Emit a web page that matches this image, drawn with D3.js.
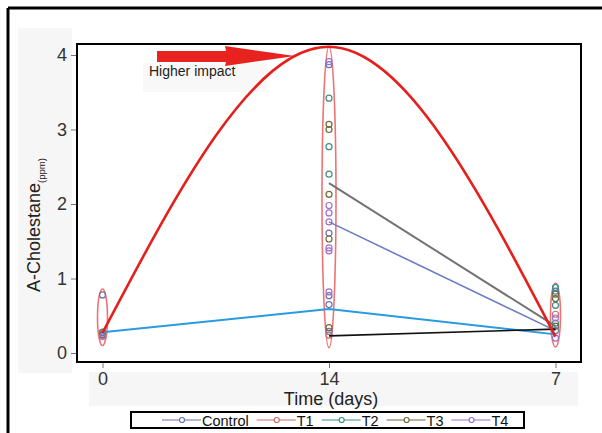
<!doctype html>
<html>
    <head>
        <title>A-Cholestane</title>
        <style>
	html, body {
		margin: 0;
		padding: 0;
		background: #fff;
	}
	svg {
		display: block;
		font-family: "Liberation Sans", Arial, sans-serif;
	}
	.tick text {
		fill: #333;
	}
        </style>
	<script src="https://cdnjs.cloudflare.com/ajax/libs/d3/7.8.5/d3.min.js"></script>
    </head>
    <body>
	<script>
	    // categories on the x axis (in the order they are drawn)
	    var days = ["0", "14", "7"];
	    var yTicks = [0, 1, 2, 3, 4];
	    var seriesNames = ["Control", "T1", "T2", "T3", "T4"];

	    // replicate readings per day, one list per day (0, 14, 7)
	    var control = [[0.78, 0.27], [3.87, 1.61, 0.77, 0.65, 0.29], [0.83, 0.30]];
	    var t1 = [[0.25], [0.24], [0.52]];
	    var t2 = [[0.28], [3.42, 2.77, 2.40], [0.88, 0.64, 0.40]];
	    var t3 = [[0.24], [3.07, 3.00, 2.13, 1.53, 0.34], [0.79, 0.73, 0.36]];
	    var t4 = [[0.22], [3.91, 1.98, 1.88, 1.76, 1.41, 1.37, 0.82], [0.47, 0.20]];

	    // ellipse ranges round each day's readings
	    var groupRange = [[0.10, 0.86], [0.07, 4.11], [0.08, 0.94]];

	    // trend lines
	    var impactCurve = [0.27, 4.11, 0.22];   // red, days 0 -> 14 -> 7
	    var blueTrend = [0.28, 0.59, 0.25];     // days 0 -> 14 -> 7
	    var grayTrend = [2.28, 0.36];           // days 14 -> 7
	    var slateTrend = [1.76, 0.30];          // days 14 -> 7
	    var blackTrend = [0.23, 0.32];          // days 14 -> 7

	    var width = 602, height = 433;
	    var frame = {left: 77, top: 44, right: 581, bottom: 362};

	    var colors = {
		"Control": "#6b72b0",
		"T1": "#c4706b",
		"T2": "#3f8f80",
		"T3": "#6e6a3e",
		"T4": "#a070cc"
	    };

	    var svg = d3.select("body").append("svg")
		.attr("width", width)
		.attr("height", height);

	    var x = d3.scalePoint()
		.domain(days)
		.range([frame.left, frame.right])
		.padding(0.1126);

	    var y = d3.scaleLinear()
		.domain([0, 4])
		.range([353, 55]);

	    // light grey panels behind the axes and the note
	    svg.append("rect").attr("x", 18).attr("y", 28).attr("width", 54).attr("height", 345).style("fill", "#f6f6f6");
	    svg.append("rect").attr("x", 89).attr("y", 372).attr("width", 489).attr("height", 34).style("fill", "#f6f6f6");

	    // outer border (top and left only)
	    svg.append("line").attr("x1", 8).attr("x2", width).attr("y1", 8).attr("y2", 8)
		.style("stroke", "#000").style("stroke-width", 3);
	    svg.append("line").attr("x1", 8).attr("x2", 8).attr("y1", 8).attr("y2", height)
		.style("stroke", "#000").style("stroke-width", 3);

	    svg.append("rect")
		.attr("x", frame.left).attr("y", frame.top)
		.attr("width", frame.right - frame.left)
		.attr("height", frame.bottom - frame.top)
		.style("fill", "#fff");

	    svg.append("rect").attr("x", 143).attr("y", 63).attr("width", 124).attr("height", 29).style("fill", "#f8f8f8");

	    // axes
	    var yAxis = svg.append("g")
		.attr("transform", "translate(" + (frame.left - 1) + ",0)")
		.call(d3.axisLeft(y).tickValues(yTicks).tickFormat(d3.format("d")).tickSize(5).tickPadding(4));
	    var xAxis = svg.append("g")
		.attr("transform", "translate(0," + (frame.bottom + 1) + ")")
		.call(d3.axisBottom(x).tickSize(5).tickPadding(4));
	    [yAxis, xAxis].forEach(function (a) {
		a.select(".domain").remove();
		a.selectAll(".tick line").style("stroke", "#777");
		a.selectAll(".tick text").style("font-size", "18px").style("font-family", "Liberation Sans, Arial, sans-serif");
	    });

	    svg.append("text")
		.attr("x", 331).attr("y", 405)
		.attr("text-anchor", "middle")
		.style("font-size", "18px")
		.style("fill", "#222")
		.text("Time (days)");

	    var ylab = svg.append("text")
		.attr("transform", "translate(40,292) rotate(-90)")
		.style("font-size", "18px")
		.style("fill", "#222");
	    ylab.append("tspan").text("A-Cholestane");
	    ylab.append("tspan").attr("dy", 5).style("font-size", "9.5px").text("(ppm)");

	    // red ellipses round each day
	    svg.selectAll(".group")
		.data(groupRange).enter()
		.append("ellipse")
		.attr("class", "group")
		.attr("cx", function (d, i) { return x(days[i]); })
		.attr("cy", function (d) { return (y(d[0]) + y(d[1])) / 2; })
		.attr("rx", function (d, i) { return i == 1 ? 7 : 5; })
		.attr("ry", function (d) { return (y(d[0]) - y(d[1])) / 2; })
		.style("fill", "none")
		.style("stroke", "#ec5b5b")
		.style("stroke-width", 1.6)
		.style("opacity", 0.85);

	    // replicate markers
	    var allSeries = [control, t1, t2, t3, t4];
	    var pts = [];
	    allSeries.forEach(function (s, si) {
		s.forEach(function (vals, di) {
		    vals.forEach(function (v) {
			pts.push({name: seriesNames[si], day: days[di], value: v});
		    });
		});
	    });

	    svg.selectAll(".pt")
		.data(pts).enter()
		.append("circle")
		.attr("class", "pt")
		.attr("cx", function (d) { return x(d.day); })
		.attr("cy", function (d) { return y(d.value); })
		.attr("r", 3)
		.style("fill", "none")
		.style("stroke", function (d) { return colors[d.name]; })
		.style("stroke-width", 1.2);

	    // trend lines
	    var line = d3.line()
		.x(function (d) { return x(d.day); })
		.y(function (d) { return y(d.value); });

	    function toPts(vals, ds) {
		return vals.map(function (v, i) { return {day: ds[i], value: v}; });
	    }

	    var later = ["14", "7"];
	    svg.append("path").datum(toPts(blueTrend, days)).attr("d", line)
		.style("fill", "none").style("stroke", "#2a9be0").style("stroke-width", 2);
	    svg.append("path").datum(toPts(grayTrend, later)).attr("d", line)
		.style("fill", "none").style("stroke", "#737373").style("stroke-width", 2);
	    svg.append("path").datum(toPts(slateTrend, later)).attr("d", line)
		.style("fill", "none").style("stroke", "#6a7cc2").style("stroke-width", 1.6);
	    svg.append("path").datum(toPts(blackTrend, later)).attr("d", line)
		.style("fill", "none").style("stroke", "#111").style("stroke-width", 1.6);

	    svg.append("path").datum(toPts(impactCurve, days))
		.attr("d", line.curve(d3.curveNatural))
		.style("fill", "none").style("stroke", "#e5201c").style("stroke-width", 2.6);

	    // arrow + note
	    svg.append("polygon")
		.attr("points", "157,51 226,51 225,46 295,56 225,66 226,62 157,62")
		.style("fill", "#e8221e");
	    svg.append("text")
		.attr("x", 149).attr("y", 76)
		.style("font-size", "14px")
		.style("fill", "#222")
		.text("Higher impact");

	    // frame drawn last so it sits over the curve peak
	    svg.append("rect")
		.attr("x", frame.left).attr("y", frame.top)
		.attr("width", frame.right - frame.left)
		.attr("height", frame.bottom - frame.top)
		.style("fill", "none")
		.style("stroke", "#000")
		.style("stroke-width", 2);

	    // legend
	    var legend = svg.append("g");
	    legend.append("rect")
		.attr("x", 131).attr("y", 412).attr("width", 393).attr("height", 16)
		.style("fill", "#fff").style("stroke", "#000").style("stroke-width", 2);

	    var lx = 162;
	    seriesNames.forEach(function (name) {
		var c = colors[name];
		legend.append("line")
		    .attr("x1", lx).attr("x2", lx + 39).attr("y1", 420).attr("y2", 420)
		    .style("stroke", c).style("stroke-width", 1.2);
		legend.append("circle")
		    .attr("cx", lx + 20).attr("cy", 420).attr("r", 2.5)
		    .style("fill", "#fff").style("stroke", c).style("stroke-width", 1.2);
		var t = legend.append("text")
		    .attr("x", lx + 40).attr("y", 425.5)
		    .style("font-size", "14.5px")
		    .style("fill", "#111")
		    .text(name);
		lx += 40 + t.node().getComputedTextLength() + 8;
	    });
	</script>
    </body>
</html>
